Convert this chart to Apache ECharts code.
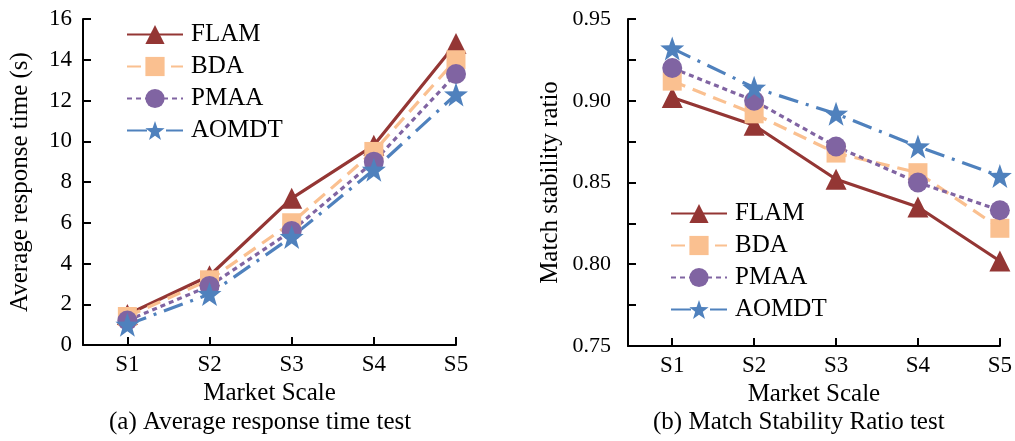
<!DOCTYPE html>
<html>
<head>
<meta charset="utf-8">
<script src="https://cdn.jsdelivr.net/npm/echarts@6/dist/echarts.min.js"></script>
<style>
  html, body { margin: 0; padding: 0; background: #fff; }
  #chart { width: 1015px; height: 441px; }
</style>
</head>
<body>
<div id="chart"></div>
<script>
// data
var categories = ['S1', 'S2', 'S3', 'S4', 'S5']
var seriesNames = ['FLAM', 'BDA', 'PMAA', 'AOMDT']

var timeFLAM = [1.5, 3.4, 7.2, 9.8, 14.8]
var timeBDA = [1.4, 3.2, 6.0, 9.5, 14.0]
var timePMAA = [1.2, 2.9, 5.6, 9.0, 13.3]
var timeAOMDT = [1.0, 2.5, 5.3, 8.6, 12.3]

var ratioFLAM = [0.902, 0.885, 0.852, 0.835, 0.802]
var ratioBDA = [0.912, 0.892, 0.868, 0.856, 0.822]
var ratioPMAA = [0.920, 0.900, 0.872, 0.850, 0.833]
var ratioAOMDT = [0.932, 0.908, 0.892, 0.872, 0.854]

var timeTicks = [0, 2, 4, 6, 8, 10, 12, 14, 16]
var ratioTicks = [0.75, 0.80, 0.85, 0.90, 0.95]

var font = "'Liberation Serif', 'Times New Roman', serif"
var starPath = 'path://M50,2 L62,36 L98,37 L69,59 L80,95 L50,74 L20,95 L31,59 L2,37 L38,36 Z'

// style per method
var styles = {
  FLAM: { color: '#943634', symbol: 'triangle', size: 21, dash: 'solid' },
  BDA: { color: '#FAC090', symbol: 'rect', size: 19, dash: [14, 8] },
  PMAA: { color: '#8064A2', symbol: 'circle', size: 20, dash: [5, 4] },
  AOMDT: { color: '#4F81BD', symbol: starPath, size: 24, dash: [20, 8, 3, 8] }
}

function toPoints(values) {
  // x position = category index + 1
  return values.map(function(v, i) { return [i + 1, v] })
}

function makeSeries(name, values, idx) {
  var s = styles[name]
  return {
    name: name,
    type: 'line',
    xAxisIndex: idx,
    yAxisIndex: idx,
    data: toPoints(values),
    symbol: s.symbol,
    symbolSize: s.size,
    showSymbol: true,
    itemStyle: { color: s.color },
    lineStyle: { color: s.color, width: 3.2, type: s.dash }
  }
}

function makeXAxis(idx) {
  return {
    type: 'value',
    gridIndex: idx,
    min: 0.46,
    max: 5,
    name: 'Market Scale',
    nameLocation: 'middle',
    nameGap: 34,
    nameTextStyle: { fontFamily: font, fontSize: 25, color: '#000' },
    axisLine: { lineStyle: { color: '#000', width: 2 } },
    axisTick: { inside: true, length: 8, lineStyle: { color: '#000', width: 2 }, customValues: [1, 2, 3, 4, 5] },
    axisLabel: {
      customValues: [1, 2, 3, 4, 5],
      formatter: function(v) { return categories[Math.round(v) - 1] },
      fontFamily: font, fontSize: 23, color: '#000', margin: 8
    },
    splitLine: { show: false }
  }
}

function makeLegend(left, top) {
  return {
    orient: 'vertical',
    left: left,
    top: top,
    data: seriesNames,
    itemWidth: 56,
    itemHeight: 24,
    itemGap: 7,
    textStyle: { fontFamily: font, fontSize: 25, color: '#000', padding: [0, 0, 0, 3] }
  }
}

var chart = echarts.init(document.getElementById('chart'))

chart.setOption({
  animation: false,
  backgroundColor: '#fff',
  legend: [makeLegend(121, 17), makeLegend(665, 196)],
  grid: [
    { left: 83, right: 559, top: 19, bottom: 96 },
    { left: 628, right: 15, top: 19, bottom: 95 }
  ],
  xAxis: [makeXAxis(0), makeXAxis(1)],
  yAxis: [{
    type: 'value',
    gridIndex: 0,
    min: timeTicks[0],
    max: timeTicks[timeTicks.length - 1],
    interval: 2,
    name: 'Average response time (s)',
    nameLocation: 'middle',
    nameGap: 50,
    nameTextStyle: { fontFamily: font, fontSize: 25, color: '#000' },
    axisLine: { show: true, lineStyle: { color: '#000', width: 2 } },
    axisTick: { show: true, inside: true, length: 8, lineStyle: { color: '#000', width: 2 } },
    axisLabel: { fontFamily: font, fontSize: 23, color: '#000', margin: 11 },
    splitLine: { show: false }
  }, {
    type: 'value',
    gridIndex: 1,
    min: ratioTicks[0],
    max: ratioTicks[ratioTicks.length - 1],
    interval: 0.05,
    name: 'Match stability ratio',
    nameLocation: 'middle',
    nameGap: 65,
    nameTextStyle: { fontFamily: font, fontSize: 25, color: '#000' },
    axisLine: { show: true, lineStyle: { color: '#000', width: 2 } },
    axisTick: { show: true, inside: true, length: 8, lineStyle: { color: '#000', width: 2 } },
    minorTick: { show: true, splitNumber: 2, length: 8, lineStyle: { color: '#000', width: 2 } },
    axisLabel: {
      fontFamily: font, fontSize: 22, color: '#000', margin: 17,
      formatter: function(v) { return v.toFixed(2) }
    },
    splitLine: { show: false }
  }],
  graphic: [{
    type: 'text',
    left: 269 - 160,
    top: 410,
    style: { text: '(a) Average response time test', font: '25px ' + font, fill: '#000', width: 320, align: 'center' }
  }, {
    type: 'text',
    left: 813 - 160,
    top: 410,
    style: { text: '(b) Match Stability Ratio test', font: '25px ' + font, fill: '#000', width: 320, align: 'center' }
  }],
  series: [
    makeSeries('FLAM', timeFLAM, 0),
    makeSeries('BDA', timeBDA, 0),
    makeSeries('PMAA', timePMAA, 0),
    makeSeries('AOMDT', timeAOMDT, 0),
    makeSeries('FLAM', ratioFLAM, 1),
    makeSeries('BDA', ratioBDA, 1),
    makeSeries('PMAA', ratioPMAA, 1),
    makeSeries('AOMDT', ratioAOMDT, 1)
  ]
})
</script>
</body>
</html>
